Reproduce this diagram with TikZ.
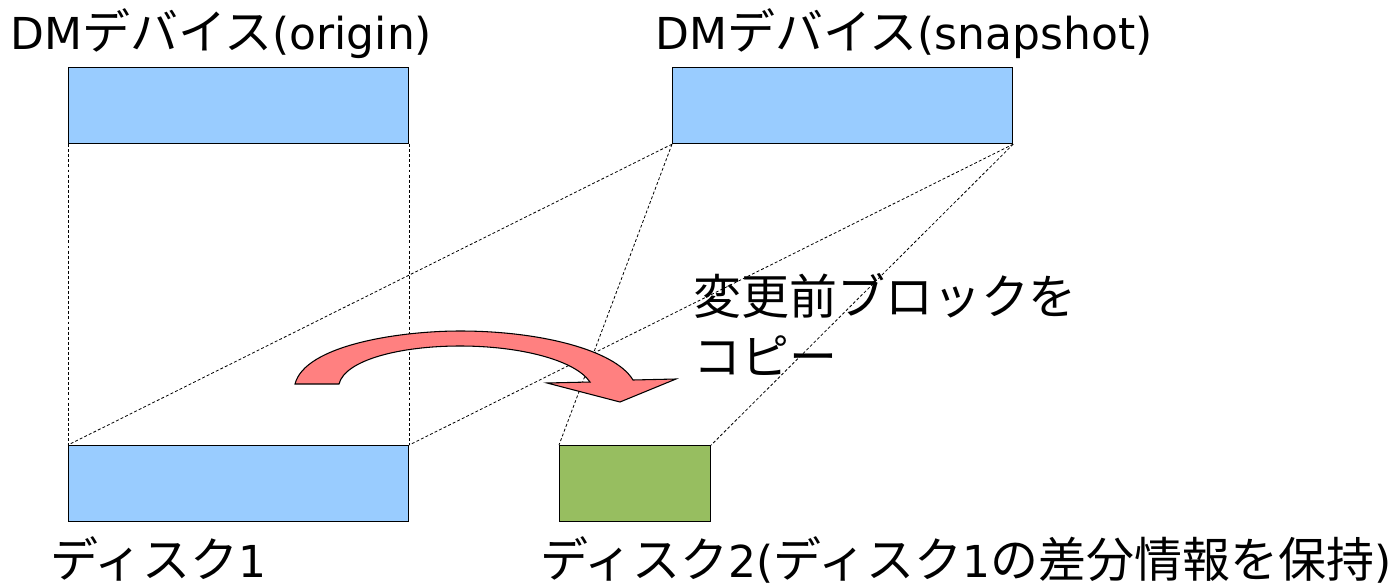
\documentclass[tikz,border=0pt]{standalone}
\usepackage{fontspec}
\setmainfont{DejaVu Sans}
\newfontfamily\jp[Scale=1.09]{Noto Sans CJK JP}
\begin{document}
\begin{tikzpicture}[x=0.75pt,y=-0.75pt,
  blk/.style={draw=black,line width=0.9pt,inner sep=0pt,anchor=north west,minimum width=255pt,minimum height=57pt},
  dsh/.style={line width=0.6pt,dash pattern=on 2.2pt off 1.6pt},
  lbl/.style={anchor=base west,inner sep=0pt,font=\fontsize{33}{40}\selectfont}]
\useasboundingbox (0,0) rectangle (1399,585);
\node[blk,fill={rgb,255:red,153;green,204;blue,255}] (orig) at (68,67) {};
\node[blk,fill={rgb,255:red,153;green,204;blue,255}] (snap) at (672,67) {};
\node[blk,fill={rgb,255:red,153;green,204;blue,255}] (d1) at (68,445) {};
\node[blk,fill={rgb,255:red,151;green,190;blue,96},minimum width=113.25pt] (d2) at (559,445) {};
\draw[dsh] (orig.south west) -- (d1.north west);
\draw[dsh] (orig.south east) -- (d1.north east);
\draw[dsh] (snap.south west) -- (d1.north west);
\draw[dsh] (snap.south east) -- (d1.north east);
\draw[dsh] (snap.south west) -- (d2.north west);
\draw[dsh] (snap.south east) -- (d2.north east);
\node[lbl] (t1) at (10,50) {DM{\jp デバイス}(origin)};
\node[lbl] (t2) at (655,50) {DM{\jp デバイス}(snapshot)};
\node[lbl] (t3) at (50,577) {{\jp ディスク}1};
\node[lbl] (t4) at (540,577) {{\jp ディスク}2({\jp ディスク}1{\jp の差分情報を保持})};
\node[lbl] (t5) at (693,314) {\jp 変更前ブロックを};
\node[lbl] (t6) at (693,374) {\jp コピー};
\draw[line width=0.8pt,fill={rgb,255:red,255;green,128;blue,128}]
  (295,384) .. controls (305,345) and (400,331) .. (460,331)
  .. controls (540,331) and (615,350) .. (633,380)
  -- (676,379) -- (620,402) -- (547,383) -- (590,382)
  .. controls (575,360) and (520,346) .. (460,346)
  .. controls (400,346) and (345,360) .. (339,384) -- cycle;
\end{tikzpicture}
\end{document}
